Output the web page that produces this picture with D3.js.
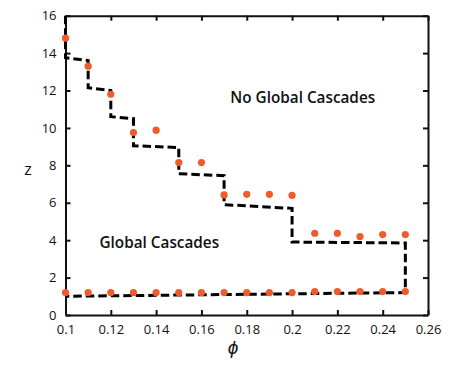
<!DOCTYPE html>
<html><head><meta charset="utf-8">
<script src="https://cdn.jsdelivr.net/npm/d3@7"></script>
<style>
html,body{margin:0;padding:0;background:#fff;}
svg{display:block;}
text{font-family:"Open Sans",sans-serif;fill:#111;}
</style></head>
<body><svg id="c" width="460" height="367"></svg>
<script>
const phi = [0.10,0.11,0.12,0.13,0.14,0.15,0.16,0.17,0.18,0.19,0.20,0.21,0.22,0.23,0.24,0.25];
const zUpper = [14.8,13.3,11.8,9.75,9.88,8.15,8.15,6.42,6.45,6.45,6.40,4.37,4.37,4.19,4.30,4.30];
const zLower = [1.2,1.2,1.2,1.2,1.2,1.2,1.2,1.2,1.2,1.2,1.2,1.25,1.25,1.25,1.25,1.25];
const boundaryPhi = [0.10,0.10,0.11,0.11,0.12,0.12,0.13,0.13,0.15,0.15,0.17,0.17,0.20,0.20,0.25,0.25,0.10];
const boundaryZ   = [16.0,13.75,13.6,12.15,12.0,10.6,10.5,9.05,8.95,7.55,7.45,5.9,5.7,3.9,3.85,1.2,1.0];
const xTicks = [0.10,0.12,0.14,0.16,0.18,0.20,0.22,0.24,0.26];
const yTicks = [0,2,4,6,8,10,12,14,16];
const labels = ["No Global Cascades","Global Cascades"];

const svg = d3.select("#c");
const x = d3.scaleLinear().domain([0.1,0.26]).range([65.5,428]);
const y = d3.scaleLinear().domain([0,16]).range([315,15.7]);
const fmt = d => String(+d.toFixed(2));

function styleAxis(g, showText){
  g.select(".domain").attr("stroke","#111").attr("stroke-width",2);
  g.selectAll(".tick line").attr("stroke","#111").attr("stroke-width",2);
  g.selectAll(".tick text").style("font-size","13px").attr("fill","#111");
  if(!showText) g.selectAll(".tick text").remove();
}
// bottom
svg.append("g").attr("transform",`translate(0,${y(0)})`)
  .call(d3.axisBottom(x).tickValues(xTicks).tickFormat(fmt).tickSizeInner(-5).tickSizeOuter(0).tickPadding(10))
  .call(g=>styleAxis(g,true));
// top
svg.append("g").attr("transform",`translate(0,${y(16)})`)
  .call(d3.axisTop(x).tickValues(xTicks).tickSizeInner(-5).tickSizeOuter(0))
  .call(g=>styleAxis(g,false));
// left
svg.append("g").attr("transform",`translate(${x(0.1)},0)`)
  .call(d3.axisLeft(y).tickValues(yTicks).tickFormat(d3.format("d")).tickSizeInner(-5).tickSizeOuter(0).tickPadding(9))
  .call(g=>styleAxis(g,true));
// right
svg.append("g").attr("transform",`translate(${x(0.26)},0)`)
  .call(d3.axisRight(y).tickValues(yTicks).tickSizeInner(-5).tickSizeOuter(0))
  .call(g=>styleAxis(g,false));

// boundary
const line = d3.line().x((d,i)=>x(boundaryPhi[i])).y((d,i)=>y(boundaryZ[i]));
svg.append("path").datum(boundaryPhi).attr("d",line)
  .attr("fill","none").attr("stroke","#000").attr("stroke-width",3)
  .attr("stroke-dasharray","8.5,4");

// dots
const dotColor = "#f15a2b";
svg.append("g").selectAll("circle").data(phi).join("circle")
  .attr("cx",d=>x(d)).attr("cy",(d,i)=>y(zUpper[i])).attr("r",3.6).attr("fill",dotColor);
svg.append("g").selectAll("circle").data(phi).join("circle")
  .attr("cx",d=>x(d)).attr("cy",(d,i)=>y(zLower[i])).attr("r",3.6).attr("fill",dotColor);

// region labels
svg.append("text").attr("x",x(0.2047)).attr("y",y(11.34)).attr("text-anchor","middle")
  .style("font-size","15.3px").style("font-weight","600").text(labels[0]);
svg.append("text").attr("x",x(0.1414)).attr("y",y(3.58)).attr("text-anchor","middle")
  .style("font-size","15.3px").style("font-weight","600").text(labels[1]);

// axis titles
svg.append("text").attr("x",28).attr("y",175).attr("text-anchor","middle")
  .style("font-size","16px").text("z");
svg.append("text").attr("x",x(0.174)).attr("y",354).attr("text-anchor","middle")
  .style("font-size","19px").style("font-style","italic").text("ϕ");
</script></body></html>
